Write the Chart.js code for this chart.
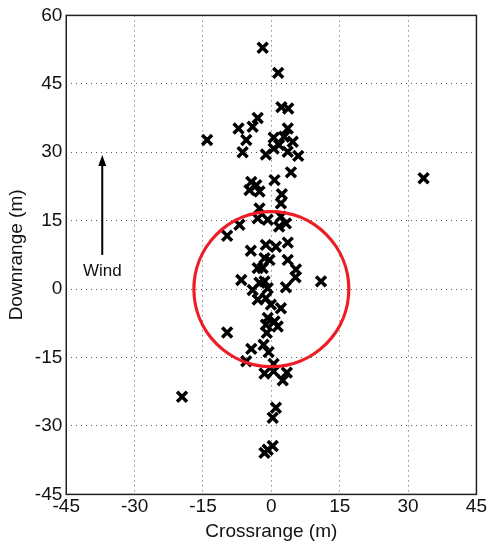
<!DOCTYPE html>
<html>
<head>
<meta charset="utf-8">
<script src="https://cdn.jsdelivr.net/npm/chart.js@4"></script>
<style>
  body { margin: 0; background: #fff; }
  #wrap { width: 488px; height: 544px; }
</style>
</head>
<body>
<div id="wrap"><canvas id="impact-chart" width="488" height="544"></canvas></div>
<script>
// impact points (m)
const crossrange = [
  -1.9, 1.5, 2.2, 3.7, -3.0, -4.1, -7.2, 3.6, -5.5, -14.1,
  0.5, 2.8, 1.7, 4.7, 3.6, 0.5, -1.2, -6.3, 5.9, 4.3,
  0.7, -4.4, -3.3, -4.8, -2.6, 2.3, 2.1, -2.6, -3.0, -0.8,
  2.1, 1.7, 3.2, -7.0, -9.7, 3.6, -4.5, -1.2, 1.0, -1.5,
  -0.4, -1.9, 3.6, -3.0, 5.4, 5.3, -6.6, -2.6, -1.5, 3.2,
  10.9, -4.1, -0.8, -3.0, -1.2, -0.1, 2.1, -0.8, 0.7, -1.2,
  1.4, -1.0, -9.7, -4.4, -1.7, -0.6, -5.5, 0.5, -1.5, 0.5,
  3.4, 2.5, -19.6, 1.0, 0.3, 0.3, -1.5, -0.8, 33.4
]
const downrange = [
  52.9, 47.4, 39.9, 39.6, 37.5, 35.6, 35.2, 35.2, 32.7, 32.7,
  33.2, 33.4, 31.6, 32.3, 30.1, 30.8, 29.5, 30.0, 29.2, 25.6,
  23.9, 23.5, 22.8, 21.7, 21.4, 20.8, 18.8, 17.7, 15.5, 15.2,
  15.9, 13.7, 14.4, 14.1, 11.7, 10.2, 8.4, 9.7, 9.3, 6.8,
  6.4, 4.6, 6.4, 4.6, 4.3, 2.6, 2.0, 1.4, 1.7, 0.4,
  1.7, -0.2, 0.2, -2.3, -2.0, -3.4, -4.2, -6.3, -7.1, -7.8,
  -8.2, -9.6, -9.5, -13.1, -12.2, -13.8, -15.8, -16.4, -18.5, -18.0,
  -18.3, -20.0, -23.6, -26.0, -28.2, -34.4, -35.9, -35.2, 24.3
]

const xTicks = [-45, -30, -15, 0, 15, 30, 45]
const yTicks = [-45, -30, -15, 0, 15, 30, 45, 60]

const circleRadius = 17   // m, centred on the aim point
const windArrow = { x: -37.1, from: 7.5, to: 29.4, labelY: 3.8 }

let points = []
crossrange.forEach((x, i) => {
  points.push({ x: x, y: downrange[i] })
})

const fontFamily = '"Liberation Sans", Arial, sans-serif'

const overlay = {
  id: 'overlay',
  afterDatasetsDraw(chart) {
    const ctx = chart.ctx
    const xs = chart.scales.x
    const ys = chart.scales.y
    const area = chart.chartArea

    // red circle
    const cx = xs.getPixelForValue(0)
    const cy = ys.getPixelForValue(0)
    const rx = xs.getPixelForValue(circleRadius) - cx
    const ry = cy - ys.getPixelForValue(circleRadius)
    ctx.save()
    ctx.strokeStyle = '#ee1c24'
    ctx.lineWidth = 3.2
    ctx.beginPath()
    ctx.ellipse(cx, cy, rx, ry, 0, 0, Math.PI * 2)
    ctx.stroke()

    // wind arrow
    const ax = xs.getPixelForValue(windArrow.x)
    const ay0 = ys.getPixelForValue(windArrow.from)
    const ay1 = ys.getPixelForValue(windArrow.to)
    ctx.strokeStyle = '#000'
    ctx.fillStyle = '#000'
    ctx.lineWidth = 2
    ctx.beginPath()
    ctx.moveTo(ax, ay0)
    ctx.lineTo(ax, ay1 + 8)
    ctx.stroke()
    ctx.beginPath()
    ctx.moveTo(ax, ay1)
    ctx.lineTo(ax - 4, ay1 + 11)
    ctx.lineTo(ax + 4, ay1 + 11)
    ctx.closePath()
    ctx.fill()

    ctx.font = '17px ' + fontFamily
    ctx.textAlign = 'center'
    ctx.textBaseline = 'middle'
    ctx.fillStyle = '#111'
    ctx.fillText('Wind', ax, ys.getPixelForValue(windArrow.labelY))

    // box round the axes
    ctx.strokeStyle = '#222'
    ctx.lineWidth = 1.5
    ctx.strokeRect(area.left, area.top, area.right - area.left, area.bottom - area.top)
    ctx.restore()
  }
}

const config = {
  type: 'scatter',
  data: {
    datasets: [{
      data: points,
      pointStyle: 'crossRot',
      pointRadius: 7,
      pointHoverRadius: 7,
      borderColor: '#000',
      backgroundColor: '#000',
      borderWidth: 3.5
    }]
  },
  options: {
    responsive: false,
    animation: false,
    events: [],
    layout: { padding: { left: 5, right: 4, top: 15, bottom: 1 } },
    plugins: {
      legend: { display: false },
      tooltip: { enabled: false }
    },
    scales: {
      x: {
        type: 'linear',
        min: -45,
        max: 45,
        afterBuildTicks: axis => { axis.ticks = xTicks.map(v => ({ value: v })) },
        grid: { color: '#555', lineWidth: 1, drawTicks: false },
        border: { display: false, dash: [1, 4] },
        ticks: { padding: 1, color: '#111', font: { family: fontFamily, size: 19 } },
        title: {
          display: true,
          text: 'Crossrange (m)',
          color: '#111',
          padding: { top: 1, bottom: 0 },
          font: { family: fontFamily, size: 19 }
        }
      },
      y: {
        type: 'linear',
        min: -45,
        max: 60,
        afterBuildTicks: axis => { axis.ticks = yTicks.map(v => ({ value: v })) },
        grid: { color: '#555', lineWidth: 1, drawTicks: false },
        border: { display: false, dash: [1, 4] },
        ticks: { padding: 4, color: '#111', font: { family: fontFamily, size: 19 } },
        title: {
          display: true,
          text: 'Downrange (m)',
          color: '#111',
          padding: { top: 0, bottom: 3 },
          font: { family: fontFamily, size: 19 }
        }
      }
    }
  },
  plugins: [overlay]
}

const chart = new Chart(document.getElementById('impact-chart'), config)
</script>
</body>
</html>
